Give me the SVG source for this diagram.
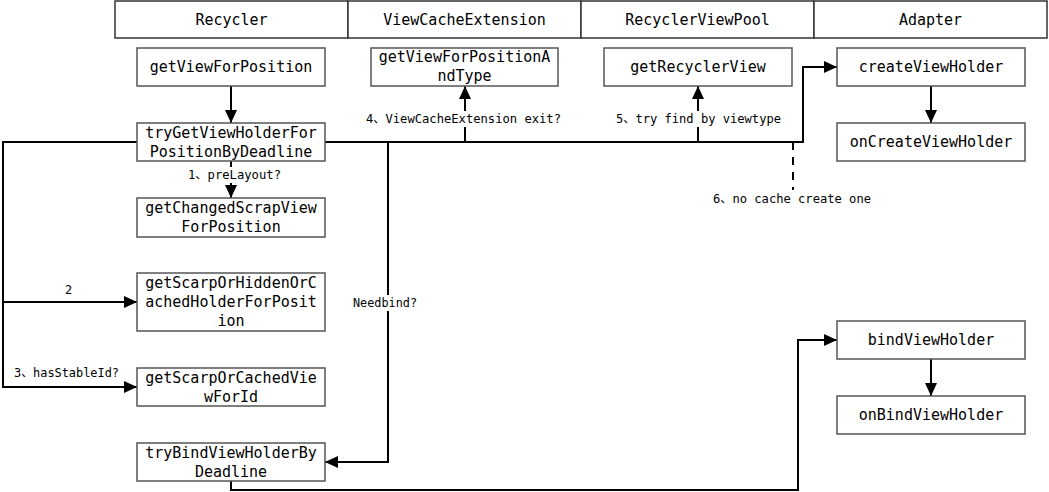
<svg xmlns="http://www.w3.org/2000/svg" width="1049" height="492" viewBox="0 0 1049 492">
<defs>
<style>
.hdr{fill:#fff;stroke:#333;stroke-width:1.5}
.box{fill:#fff;stroke:#555;stroke-width:1.5}
.t{font-family:"DejaVu Sans Mono","Liberation Mono","Noto Sans CJK SC",monospace;font-size:15px;fill:#000;text-anchor:middle}
.l{font-family:"DejaVu Sans Mono","Liberation Mono","Noto Sans CJK SC",monospace;font-size:12px;fill:#000}
.ln{fill:none;stroke:#000;stroke-width:2}
.bg{fill:#fff}
</style>
<marker id="ah" markerUnits="userSpaceOnUse" markerWidth="14" markerHeight="12" refX="13" refY="6" orient="auto">
<path d="M0,0 L13,6 L0,12 z" fill="#000"/>
</marker>
</defs>
<rect width="1049" height="492" fill="#fff"/>

<g id="header">
<rect class="hdr" x="115" y="1" width="233" height="37"/>
<rect class="hdr" x="348" y="1" width="233" height="37"/>
<rect class="hdr" x="581" y="1" width="233" height="37"/>
<rect class="hdr" x="814" y="1" width="233" height="37"/>
<text class="t" x="231.5" y="25">Recycler</text>
<text class="t" x="464.5" y="25">ViewCacheExtension</text>
<text class="t" x="697.5" y="25">RecyclerViewPool</text>
<text class="t" x="930.5" y="25">Adapter</text>
</g>

<g id="connectors">
<line class="ln" x1="231" y1="86" x2="231" y2="123" marker-end="url(#ah)"/>
<line class="ln" x1="231" y1="161" x2="231" y2="198" marker-end="url(#ah)"/>
<polyline class="ln" points="137,142 3,142 3,387 137,387" marker-end="url(#ah)"/>
<polyline class="ln" points="3,302 137,302" marker-end="url(#ah)"/>
<polyline class="ln" points="325,142 803,142 803,67 837,67" marker-end="url(#ah)"/>
<line class="ln" x1="465" y1="142" x2="465" y2="86" marker-end="url(#ah)"/>
<line class="ln" x1="698" y1="142" x2="698" y2="86" marker-end="url(#ah)"/>
<polyline class="ln" points="388,142 388,462 325,462" marker-end="url(#ah)"/>
<line class="ln" x1="793" y1="142" x2="793" y2="190" stroke-dasharray="8,7"/>
<polyline class="ln" points="231,481 231,490 798,490 798,340 837,340" marker-end="url(#ah)"/>
<line class="ln" x1="931" y1="86" x2="931" y2="123" marker-end="url(#ah)"/>
<line class="ln" x1="931" y1="359" x2="931" y2="396" marker-end="url(#ah)"/>
<rect class="bg" x="186" y="167" width="97" height="16"/>
<text class="l" x="188" y="179" textLength="93" lengthAdjust="spacingAndGlyphs">1、preLayout?</text>
<text class="l" x="65" y="294">2</text>
<text class="l" x="14" y="377" textLength="105" lengthAdjust="spacingAndGlyphs">3、hasStableId?</text>
<rect class="bg" x="364" y="111" width="199" height="16"/>
<text class="l" x="366" y="123" textLength="195" lengthAdjust="spacingAndGlyphs">4、ViewCacheExtension exit?</text>
<rect class="bg" x="614" y="111" width="169" height="16"/>
<text class="l" x="616" y="123" textLength="165" lengthAdjust="spacingAndGlyphs">5、try find by viewtype</text>
<text class="l" x="713" y="203" textLength="158" lengthAdjust="spacingAndGlyphs">6、no cache create one</text>
<rect class="bg" x="351" y="295" width="68" height="16"/>
<text class="l" x="353" y="307" textLength="64" lengthAdjust="spacingAndGlyphs">Needbind?</text>
</g>

<g id="getViewForPosition">
<rect class="box" x="137" y="48" width="188" height="38"/>
<text class="t" x="231" y="72">getViewForPosition</text>
</g>
<g id="tryGetViewHolderForPositionByDeadline">
<rect class="box" x="137" y="123" width="188" height="38"/>
<text class="t" x="231" y="138">tryGetViewHolderFor</text>
<text class="t" x="231" y="157">PositionByDeadline</text>
</g>
<g id="getChangedScrapViewForPosition">
<rect class="box" x="137" y="198" width="188" height="39"/>
<text class="t" x="231" y="213">getChangedScrapView</text>
<text class="t" x="231" y="232">ForPosition</text>
</g>
<g id="getScarpOrHiddenOrCachedHolderForPosition">
<rect class="box" x="137" y="273" width="188" height="58"/>
<text class="t" x="231" y="288">getScarpOrHiddenOrC</text>
<text class="t" x="231" y="307">achedHolderForPosit</text>
<text class="t" x="231" y="326">ion</text>
</g>
<g id="getScarpOrCachedViewForId">
<rect class="box" x="137" y="368" width="188" height="38"/>
<text class="t" x="231" y="383">getScarpOrCachedVie</text>
<text class="t" x="231" y="402">wForId</text>
</g>
<g id="tryBindViewHolderByDeadline">
<rect class="box" x="137" y="443" width="188" height="38"/>
<text class="t" x="231" y="458">tryBindViewHolderBy</text>
<text class="t" x="231" y="477">Deadline</text>
</g>
<g id="getViewForPositionAndType">
<rect class="box" x="371" y="48" width="187" height="38"/>
<text class="t" x="464.5" y="62">getViewForPositionA</text>
<text class="t" x="464.5" y="81">ndType</text>
</g>
<g id="getRecyclerView">
<rect class="box" x="604" y="48" width="188" height="38"/>
<text class="t" x="698" y="72">getRecyclerView</text>
</g>
<g id="createViewHolder">
<rect class="box" x="837" y="48" width="188" height="38"/>
<text class="t" x="931" y="72">createViewHolder</text>
</g>
<g id="onCreateViewHolder">
<rect class="box" x="837" y="123" width="188" height="38"/>
<text class="t" x="931" y="147">onCreateViewHolder</text>
</g>
<g id="bindViewHolder">
<rect class="box" x="837" y="321" width="188" height="38"/>
<text class="t" x="931" y="345">bindViewHolder</text>
</g>
<g id="onBindViewHolder">
<rect class="box" x="837" y="396" width="188" height="38"/>
<text class="t" x="931" y="420">onBindViewHolder</text>
</g>
</svg>
